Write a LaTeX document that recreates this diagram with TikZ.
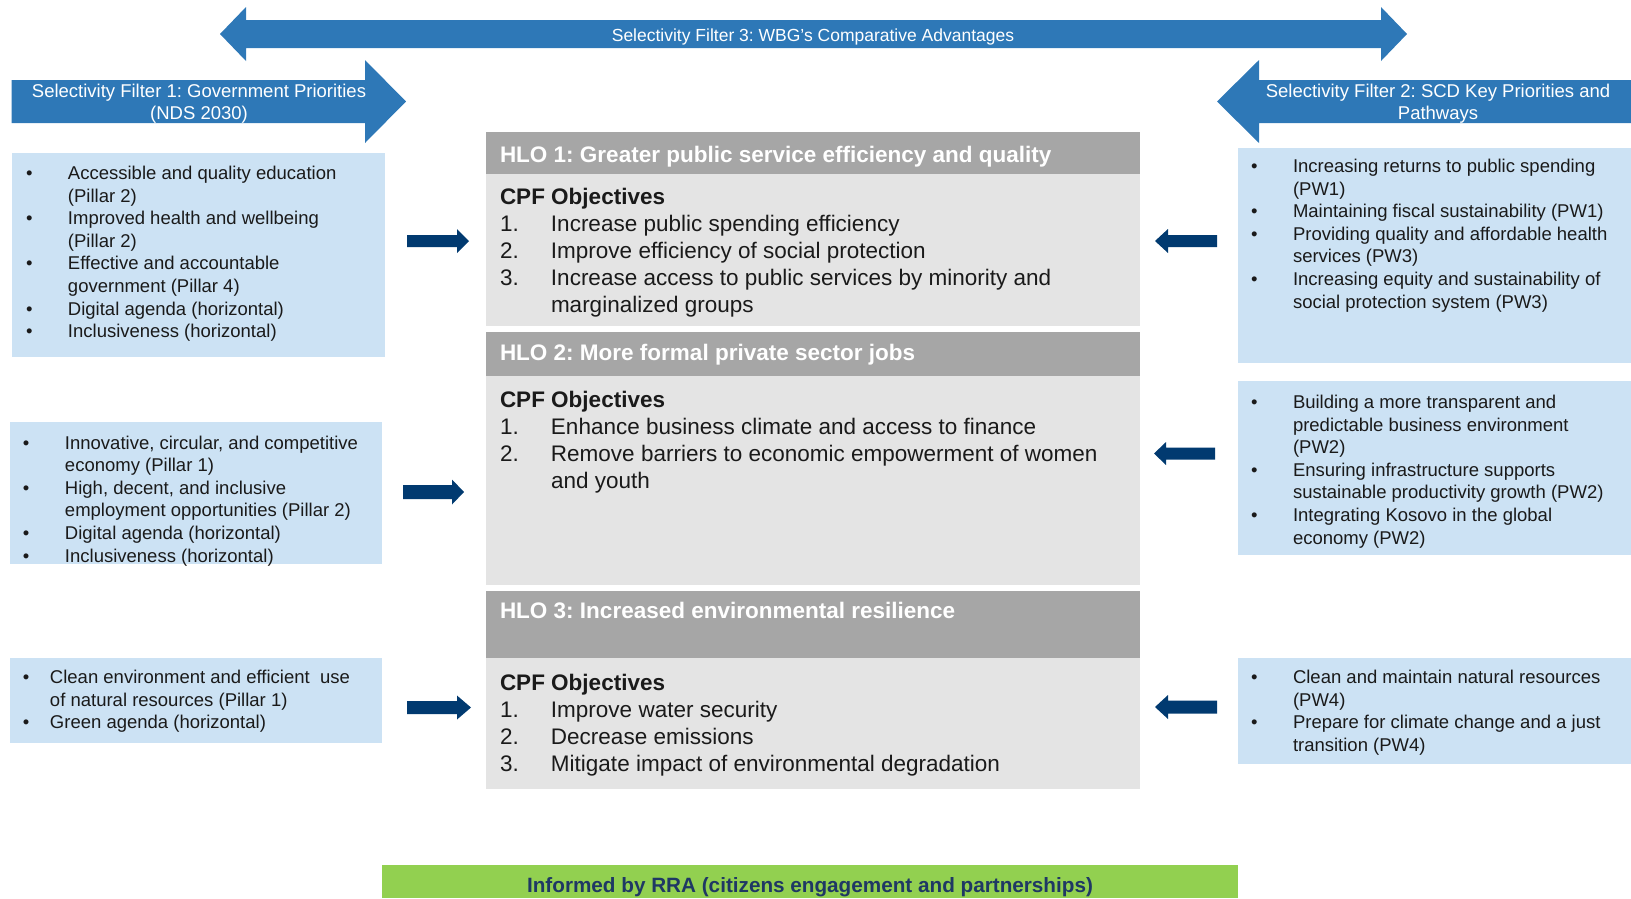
\documentclass[tikz,border=0pt]{standalone}
\usepackage{fontspec}
\setmainfont{Liberation Sans}
\usepackage{array}
\frenchspacing

\definecolor{filterblue}{HTML}{2E78B7}
\definecolor{paleblue}{HTML}{CCE2F4}
\definecolor{hlogrey}{HTML}{A6A6A6}
\definecolor{bodygrey}{HTML}{E4E4E4}
\definecolor{navyarrow}{HTML}{013A70}
\definecolor{rragreen}{HTML}{92D050}
\definecolor{rranavy}{HTML}{1F3864}
\definecolor{bodytext}{HTML}{1A1A1A}

\newcommand{\setfs}[2]{\fontsize{#1}{#2}\selectfont}

% block arrow: shaft start, head base, tip, centre y, shaft half height, head half height
\newcommand{\rblock}[6]{%
  \fill[navyarrow] (#1,{#4-#5}) -- (#2,{#4-#5}) -- (#2,{#4-#6}) -- (#3,#4)
    -- (#2,{#4+#6}) -- (#2,{#4+#5}) -- (#1,{#4+#5}) -- cycle;}

\tikzset{
  panel/.style={anchor=north west, inner sep=0pt, outer sep=0pt},
  listtext/.style={anchor=base west, inner sep=0pt, outer sep=0pt,
    font=\setfs{18.5}{22.6}, text=bodytext},
  objtext/.style={anchor=base west, inner sep=0pt, outer sep=0pt,
    font=\setfs{22.5}{27}, text=bodytext},
  hlotitle/.style={anchor=base west, inner sep=0pt, outer sep=0pt,
    font=\setfs{22.5}{27}\bfseries, text=white},
  filtertext/.style={inner sep=0pt, outer sep=0pt, text=white, align=center}
}

\begin{document}
\begin{tikzpicture}[x=1pt, y=-1pt]
\useasboundingbox (0,0) rectangle (1631,898);

% ---- selectivity filter arrows ----
\fill[filterblue] (220,34) -- (246,7) -- (246,20) -- (1381,20) -- (1381,7) -- (1407,34)
  -- (1381,61) -- (1381,48) -- (246,48) -- (246,61) -- cycle;
\node[filtertext, anchor=base, font=\setfs{17.5}{21}] (f3) at (813,41.5)
  {Selectivity Filter 3: WBG’s Comparative Advantages};

\fill[filterblue] (11.5,80) -- (365,80) -- (365,60) -- (406,101.5) -- (365,143)
  -- (365,123) -- (11.5,123) -- cycle;
\node[filtertext, anchor=base, font=\setfs{18.5}{22}] (f1a) at (199,97.5)
  {Selectivity Filter 1: Government Priorities};
\node[filtertext, anchor=base, font=\setfs{18.5}{22}] (f1b) at (199,119.5) {(NDS 2030)};

\fill[filterblue] (1631,80) -- (1259,80) -- (1259,60) -- (1217,101.5) -- (1259,143)
  -- (1259,123) -- (1631,123) -- cycle;
\node[filtertext, anchor=base, font=\setfs{18.5}{22}] (f2a) at (1438,97.5)
  {Selectivity Filter 2: SCD Key Priorities and};
\node[filtertext, anchor=base, font=\setfs{18.5}{22}] (f2b) at (1438,119.5) {Pathways};

% ---- government priority boxes (left) ----
\node[panel, fill=paleblue, minimum width=373.5pt, minimum height=204pt] (lb1) at (11.5,153) {};
\node[listtext] (lb1t) at (26,179.5) {\begin{tabular}[t]{@{}p{42pt}@{}l@{}}
\textbullet & Accessible and quality education\\
 & (Pillar 2)\\
\textbullet & Improved health and wellbeing\\
 & (Pillar 2)\\
\textbullet & Effective and accountable\\
 & government (Pillar 4)\\
\textbullet & Digital agenda (horizontal)\\
\textbullet & Inclusiveness (horizontal)
\end{tabular}};

\node[panel, fill=paleblue, minimum width=372pt, minimum height=141.5pt] (lb2) at (10,422) {};
\node[listtext] (lb2t) at (23,449) {\begin{tabular}[t]{@{}p{42pt}@{}l@{}}
\textbullet & Innovative, circular, and competitive\\
 & economy (Pillar 1)\\
\textbullet & High, decent, and inclusive\\
 & employment opportunities (Pillar 2)\\
\textbullet & Digital agenda (horizontal)\\
\textbullet & Inclusiveness (horizontal)
\end{tabular}};

\node[panel, fill=paleblue, minimum width=372pt, minimum height=85pt] (lb3) at (10,658) {};
\node[listtext] (lb3t) at (23,683.5) {\begin{tabular}[t]{@{}p{27pt}@{}l@{}}
\textbullet & Clean environment and efficient\ \ use\\
 & of natural resources (Pillar 1)\\
\textbullet & Green agenda (horizontal)
\end{tabular}};

% ---- HLO column ----
\node[panel, fill=hlogrey, minimum width=654pt, minimum height=42pt] (h1) at (486,132) {};
\node[panel, fill=bodygrey, minimum width=654pt, minimum height=152pt] (b1) at (486,174) {};
\node[hlotitle] (h1t) at (500,162.5) {HLO 1: Greater public service efficiency and quality};
\node[objtext] (b1t) at (500,204.5) {\begin{tabular}[t]{@{}p{51pt}@{}l@{}}
\multicolumn{2}{@{}l@{}}{\bfseries CPF Objectives}\\
1. & Increase public spending efficiency\\
2. & Improve efficiency of social protection\\
3. & Increase access to public services by minority and\\
 & marginalized groups
\end{tabular}};

\node[panel, fill=hlogrey, minimum width=654pt, minimum height=44pt] (h2) at (486,332) {};
\node[panel, fill=bodygrey, minimum width=654pt, minimum height=209pt] (b2) at (486,376) {};
\node[hlotitle] (h2t) at (500,360.5) {HLO 2: More formal private sector jobs};
\node[objtext] (b2t) at (500,407) {\begin{tabular}[t]{@{}p{51pt}@{}l@{}}
\multicolumn{2}{@{}l@{}}{\bfseries CPF Objectives}\\
1. & Enhance business climate and access to finance\\
2. & Remove barriers to economic empowerment of women\\
 & and youth
\end{tabular}};

\node[panel, fill=hlogrey, minimum width=654pt, minimum height=67.5pt] (h3) at (486,590.5) {};
\node[panel, fill=bodygrey, minimum width=654pt, minimum height=131pt] (b3) at (486,658) {};
\node[hlotitle] (h3t) at (500,618) {HLO 3: Increased environmental resilience};
\node[objtext] (b3t) at (500,690) {\begin{tabular}[t]{@{}p{51pt}@{}l@{}}
\multicolumn{2}{@{}l@{}}{\bfseries CPF Objectives}\\
1. & Improve water security\\
2. & Decrease emissions\\
3. & Mitigate impact of environmental degradation
\end{tabular}};

% ---- SCD pathway boxes (right) ----
\node[panel, fill=paleblue, minimum width=393pt, minimum height=215pt] (rb1) at (1238,148) {};
\node[listtext] (rb1t) at (1251,172.5) {\begin{tabular}[t]{@{}p{42pt}@{}l@{}}
\textbullet & Increasing returns to public spending\\
 & (PW1)\\
\textbullet & Maintaining fiscal sustainability (PW1)\\
\textbullet & Providing quality and affordable health\\
 & services (PW3)\\
\textbullet & Increasing equity and sustainability of\\
 & social protection system (PW3)
\end{tabular}};

\node[panel, fill=paleblue, minimum width=393pt, minimum height=173.5pt] (rb2) at (1238,381) {};
\node[listtext] (rb2t) at (1251,408.5) {\begin{tabular}[t]{@{}p{42pt}@{}l@{}}
\textbullet & Building a more transparent and\\
 & predictable business environment\\
 & (PW2)\\
\textbullet & Ensuring infrastructure supports\\
 & sustainable productivity growth (PW2)\\
\textbullet & Integrating Kosovo in the global\\
 & economy (PW2)
\end{tabular}};

\node[panel, fill=paleblue, minimum width=393pt, minimum height=105.5pt] (rb3) at (1238,658) {};
\node[listtext] (rb3t) at (1251,683.5) {\begin{tabular}[t]{@{}p{42pt}@{}l@{}}
\textbullet & Clean and maintain natural resources\\
 & (PW4)\\
\textbullet & Prepare for climate change and a just\\
 & transition (PW4)
\end{tabular}};

% ---- small block arrows feeding the HLO column ----
\rblock{407}{457}{469}{241}{6}{12}
\rblock{403}{452}{464}{492}{7}{12.5}
\rblock{407}{457}{471}{707.5}{6.5}{12}
\rblock{1217}{1168}{1155}{241}{6}{12}
\rblock{1215}{1166}{1154}{453.5}{6}{11.5}
\rblock{1217}{1168}{1155}{707}{6.5}{12}

% ---- RRA bar ----
\node[panel, fill=rragreen, minimum width=856pt, minimum height=33pt] (rra) at (382,865) {};
\node[anchor=base, inner sep=0pt, font=\setfs{20.7}{24}\bfseries, text=rranavy] (rrat) at (810,892.5)
  {Informed by RRA (citizens engagement and partnerships)};

\end{tikzpicture}
\end{document}
